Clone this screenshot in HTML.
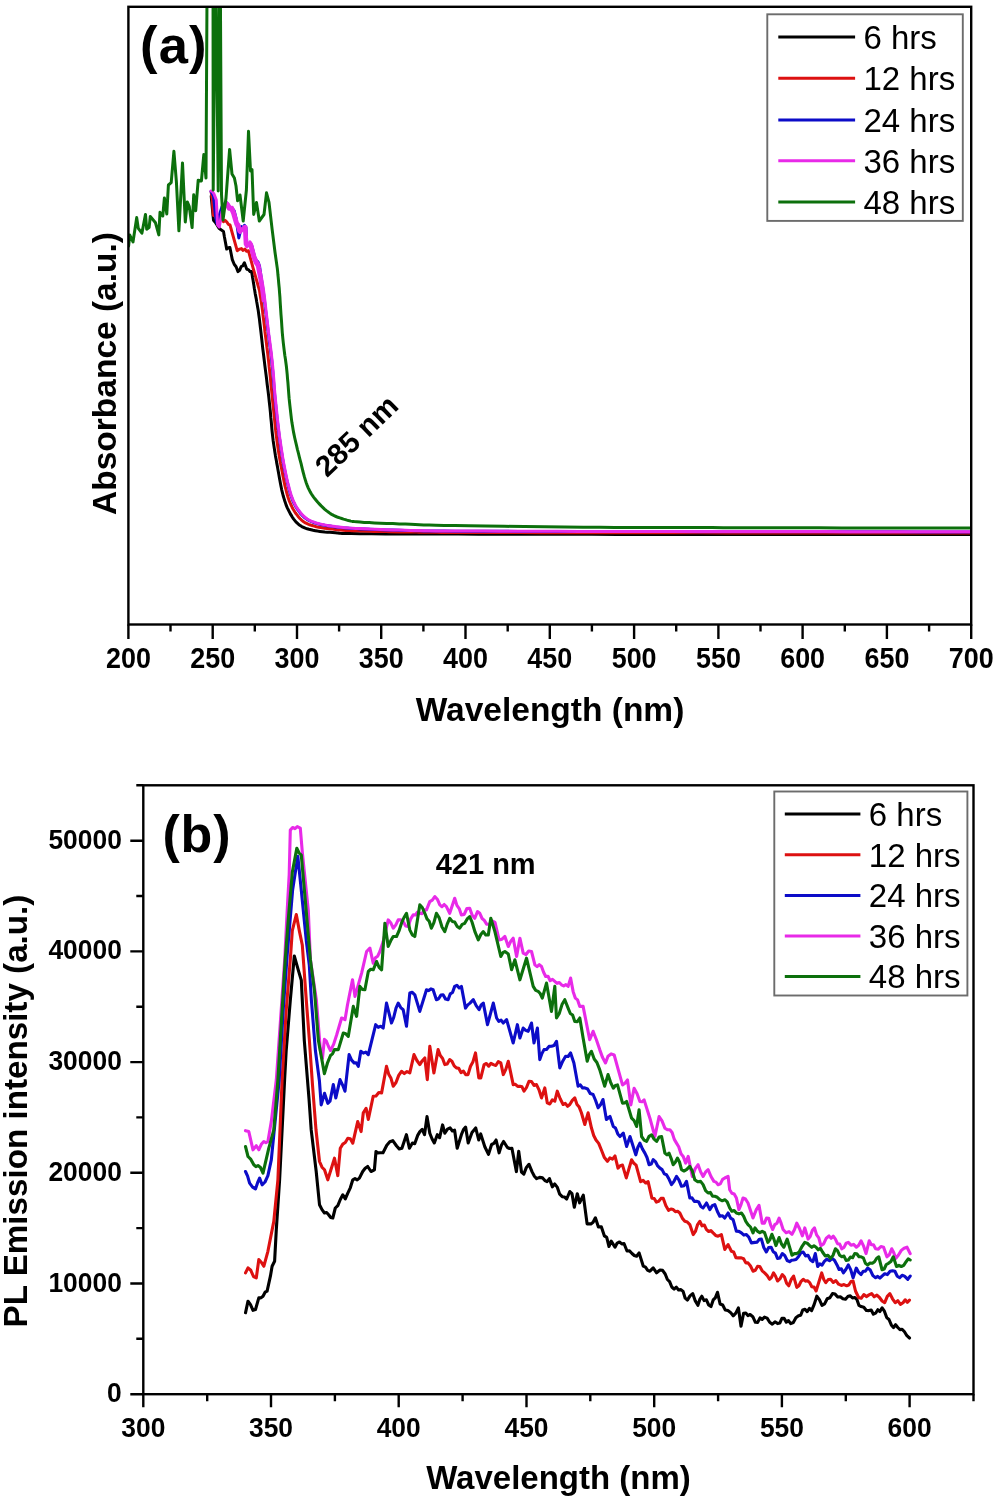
<!DOCTYPE html><html><head><meta charset="utf-8"><style>html,body{margin:0;padding:0;background:#fff;}svg{display:block;filter:blur(0.45px);}text{font-family:"Liberation Sans",sans-serif;}</style></head><body>
<svg width="995" height="1503" viewBox="0 0 995 1503">
<rect x="0" y="0" width="995" height="1503" fill="#fff"/>
<defs><clipPath id="ca"><rect x="128.4" y="6.8" width="842.8" height="617.7"/></clipPath><clipPath id="cb"><rect x="143.3" y="785.3" width="830.2" height="608.9"/></clipPath></defs>
<g clip-path="url(#ca)" fill="none" stroke-width="3.0" stroke-linejoin="round" stroke-linecap="round">
<polyline stroke="#000000" points="211.2,196.0 212.5,210.0 213.5,220.2 215.2,222.2 217.0,225.0 219.0,228.3 221.0,229.8 223.5,231.4 224.3,236.3 226.7,249.1 228.3,247.8 229.9,247.5 232.3,259.6 234.2,264.3 236.1,266.7 238.0,271.6 239.6,270.4 241.2,266.5 242.8,265.8 244.4,262.8 246.8,269.2 248.4,269.6 250.0,271.5 251.6,271.6 251.8,273.1 252.2,275.0 252.5,277.3 253.0,279.9 253.4,282.6 253.9,285.4 254.3,288.3 254.8,291.0 255.2,293.6 255.7,296.1 256.2,298.6 256.6,301.2 257.1,303.9 257.6,306.9 258.2,310.3 258.7,314.0 259.3,318.2 259.8,322.7 260.4,327.5 261.0,332.6 261.6,337.9 262.2,343.3 262.8,348.8 263.5,354.3 264.2,360.0 264.9,365.9 265.7,372.1 266.5,378.3 267.2,384.5 268.0,390.6 268.7,396.4 269.3,402.0 269.9,407.3 270.4,412.4 270.8,417.4 271.3,422.2 271.7,426.9 272.1,431.4 272.6,435.9 273.1,440.2 273.7,444.4 274.3,448.4 274.9,452.3 275.5,456.1 276.2,459.8 276.8,463.4 277.5,466.9 278.1,470.4 278.7,473.8 279.3,477.2 279.9,480.5 280.5,483.7 281.1,486.8 281.7,489.8 282.4,492.7 283.1,495.5 283.9,498.1 284.7,500.7 285.5,503.1 286.3,505.4 287.2,507.6 288.2,509.7 289.2,511.7 290.2,513.6 291.3,515.4 292.4,517.2 293.5,518.9 294.7,520.4 295.9,521.9 297.3,523.2 298.7,524.5 300.2,525.6 301.8,526.6 303.5,527.4 305.3,528.2 307.1,528.8 309.0,529.3 311.1,529.8 313.1,530.3 315.3,530.7 317.5,531.1 319.9,531.4 322.3,531.7 324.8,532.0 327.3,532.2 329.9,532.3 332.6,532.5 335.4,532.7 337.5,532.9 338.5,533.0 339.2,533.2 340.2,533.3 342.1,533.4 345.6,533.5 351.4,533.6 360.0,533.7 371.6,533.8 385.5,533.9 401.4,533.9 419.0,534.0 438.0,534.1 458.1,534.1 478.8,534.2 500.0,534.2 521.6,534.2 544.1,534.3 567.5,534.3 591.8,534.3 617.2,534.4 643.6,534.4 671.2,534.4 700.0,534.4 732.3,534.4 769.1,534.4 808.3,534.4 848.0,534.4 886.1,534.4 920.6,534.4 949.6,534.4 971.0,534.4"/>
<polyline stroke="#dd1111" points="211.2,192.0 212.4,200.0 213.3,215.4 215.2,216.0 217.0,218.0 218.7,219.2 220.3,218.8 222.0,220.0 223.6,221.7 225.1,220.4 226.7,221.8 228.3,224.3 230.0,225.0 237.2,250.7 239.6,249.1 241.4,248.6 243.1,250.4 244.9,249.1 246.6,251.2 248.4,250.7 253.2,268.4 259.5,290.5 260.2,295.2 261.0,300.1 261.8,305.5 262.4,309.9 262.9,314.5 263.8,321.3 264.4,326.3 264.9,331.2 265.2,333.6 265.8,338.2 266.4,342.8 266.9,347.4 267.2,349.5 267.8,354.2 268.3,358.9 268.9,364.0 269.1,366.4 269.7,371.6 270.3,377.0 270.8,382.4 271.0,385.0 271.6,390.4 272.1,395.7 272.6,400.9 273.2,406.0 273.7,411.1 274.2,416.2 274.7,421.1 275.2,426.1 275.7,430.9 276.3,435.6 276.9,440.2 277.5,444.7 278.4,450.9 279.1,455.1 279.8,459.2 280.5,463.3 281.3,467.2 282.3,472.6 283.0,476.2 283.7,479.7 284.4,483.1 285.1,486.4 285.9,489.5 287.0,493.8 287.8,496.5 288.7,499.2 289.6,501.7 290.6,504.0 292.1,507.2 293.2,509.3 294.4,511.2 295.5,513.0 296.8,514.7 298.6,517.0 299.9,518.5 301.9,520.4 303.3,521.5 305.5,522.9 307.1,523.6 308.7,524.3 310.5,525.0 312.3,525.5 314.3,526.1 316.4,526.7 318.7,527.2 322.2,527.8 324.7,528.2 327.2,528.5 329.9,528.8 332.6,529.1 335.4,529.4 337.8,529.7 340.5,530.0 342.8,530.2 345.9,530.4 350.1,530.6 351.9,530.7 357.8,530.8 360.0,530.9 362.5,531.1 370.6,531.2 373.5,531.4 383.0,531.5 386.2,531.6 389.5,531.8 400.1,531.9 403.3,532.0 414.4,532.1 416.8,532.1 419.1,532.2 421.6,532.2 433.2,532.3 436.8,532.3 441.3,532.4 456.4,532.4 463.5,532.5 481.2,532.5 500.0,532.6 519.7,532.6 540.5,532.7 562.2,532.7 573.5,532.7 596.2,532.7 620.1,532.8 645.3,532.8 671.8,532.8 699.1,532.8 728.2,532.9 759.2,532.9 772.8,532.9 803.8,532.9 816.8,532.9 848.4,532.9 879.4,532.9 892.5,533.0 920.7,533.0 944.9,533.0 954.1,533.0 971.0,533.0"/>
<polyline stroke="#0c0cc8" points="211.0,191.5 213.5,196.0 215.3,214.0 216.8,223.0 220.0,213.0 222.0,206.6 224.0,204.0 225.4,205.2 226.9,202.8 228.3,205.0 230.3,208.9 232.3,208.3 234.2,210.9 236.0,218.0 238.8,237.9 241.6,226.6 243.1,228.6 244.5,225.4 246.0,227.6 246.8,243.7 248.4,245.6 250.0,243.0 251.6,245.1 254.8,257.4 256.4,260.6 258.0,262.0 259.5,266.0 263.1,290.1 263.7,294.4 264.3,299.3 264.9,304.4 265.5,309.6 266.2,314.9 266.8,320.3 267.4,325.4 267.9,330.1 268.5,334.3 269.0,338.5 269.5,342.5 270.0,346.4 270.5,350.1 271.0,354.0 271.5,358.2 271.9,362.5 272.3,366.7 272.8,371.3 273.1,376.0 273.5,380.8 273.9,385.4 274.3,390.3 274.7,395.2 275.2,400.1 275.7,405.1 276.2,410.1 276.7,415.2 277.3,420.4 277.9,425.5 278.5,430.5 279.1,435.4 279.8,440.2 280.4,444.9 281.1,449.7 281.9,454.3 282.6,458.8 283.4,463.2 284.1,467.4 285.0,471.6 285.8,475.5 286.6,479.2 287.4,482.7 288.2,486.0 289.0,489.2 289.9,492.4 290.8,495.3 291.8,498.0 292.8,500.6 293.9,503.0 295.1,505.4 296.3,507.5 297.5,509.4 298.8,511.2 300.1,512.9 301.5,514.5 302.8,515.9 304.3,517.3 305.6,518.4 307.0,519.4 308.5,520.2 309.9,521.0 311.5,521.7 313.3,522.3 315.2,523.0 317.3,523.6 319.6,524.2 322.1,524.8 324.6,525.3 327.2,525.7 329.9,526.1 332.6,526.5 335.4,526.9 338.1,527.2 340.7,527.5 343.3,527.8 346.1,528.0 349.2,528.2 352.3,528.4 356.1,528.6 360.0,528.9 364.4,529.1 369.8,529.3 375.0,529.5 381.1,529.7 386.8,530.0 392.5,530.1 399.1,530.3 404.8,530.5 410.8,530.6 415.1,530.7 419.2,530.8 423.5,530.9 429.5,531.0 435.8,531.0 443.9,531.1 455.2,531.2 467.7,531.2 483.1,531.3 500.0,531.3 518.3,531.4 537.8,531.4 558.1,531.5 578.0,531.5 599.6,531.5 622.3,531.6 646.7,531.6 672.2,531.6 698.5,531.7 725.1,531.7 751.7,531.7 775.7,531.7 800.4,531.7 823.2,531.8 848.8,531.8 874.4,531.8 897.4,531.8 920.7,531.9 941.4,531.9 957.6,531.9 971.0,531.9"/>
<polyline stroke="#e82ae8" points="225.1,204.2 226.7,205.7 228.7,209.2 230.7,208.9 232.6,213.3 234.4,219.6 235.9,224.5 237.3,226.3 238.8,231.4 240.1,232.6 241.4,229.6 242.9,227.9 244.4,228.2 245.2,244.3 246.8,246.9 248.4,243.5 250.0,245.9 253.2,258.0 255.3,263.0 257.3,266.0 257.7,267.9 258.1,270.3 258.7,273.1 259.3,276.3 260.0,279.8 260.6,283.6 261.3,287.5 261.9,291.6 262.5,296.0 263.1,300.8"/>
<polyline stroke="#e82ae8" points="211.0,191.0 212.5,191.7 214.0,194.0 216.3,200.0 217.6,225.0 219.3,227.0 222.0,212.0 223.5,208.9 225.0,204.0 226.7,202.6 228.3,204.1 230.3,207.6 232.3,207.3 234.2,211.7 236.0,218.0 237.5,222.9 238.9,224.7 240.4,229.8 241.7,231.0 243.0,228.0 244.5,226.3 246.0,226.6 246.8,242.7 248.4,245.3 250.0,241.9 251.6,244.3 254.8,256.4 256.9,261.4 258.9,264.4 259.3,266.3 259.7,268.7 260.3,271.5 260.9,274.7 261.6,278.2 262.2,282.0 262.9,285.9 263.5,290.0 264.1,294.4 264.7,299.2 265.3,304.3 265.9,309.6 266.5,314.9 267.2,320.2 267.7,325.3 268.3,330.0 268.8,334.4 269.4,338.5 269.9,342.4 270.4,346.3 270.9,350.1 271.4,354.0 271.8,358.1 272.3,362.3 272.7,366.7 273.1,371.3 273.5,375.9 273.9,380.7 274.2,385.4 274.6,390.3 275.0,395.1 275.5,400.0 276.0,404.9 276.5,410.0 277.1,415.1 277.6,420.3 278.2,425.4 278.8,430.4 279.4,435.4 280.1,440.2 280.8,444.9 281.5,449.6 282.2,454.2 282.9,458.7 283.7,463.2 284.5,467.4 285.3,471.5 286.1,475.4 286.9,479.1 287.7,482.6 288.6,486.0 289.4,489.2 290.3,492.3 291.2,495.2 292.2,497.9 293.2,500.5 294.3,502.9 295.4,505.2 296.6,507.3 297.9,509.2 299.2,511.0 300.5,512.6 301.8,514.2 303.2,515.6 304.6,516.9 305.9,518.0 307.2,519.0 308.6,519.8 310.1,520.6 311.7,521.3 313.4,521.9 315.3,522.6 317.4,523.3 319.7,523.9 322.1,524.4 324.6,524.9 327.2,525.4 329.9,525.8 332.6,526.2 335.4,526.6 338.1,526.9 340.8,527.2 343.4,527.5 346.1,527.7 349.1,528.0 352.3,528.2 355.9,528.4 360.0,528.6 364.6,528.8 369.7,529.1 375.2,529.3 380.9,529.5 386.9,529.7 392.9,530.0 399.0,530.1 405.0,530.3 410.4,530.4 414.9,530.6 419.2,530.6 423.8,530.7 429.1,530.8 435.7,530.9 444.2,530.9 455.0,531.0 468.2,531.1 483.3,531.1 500.0,531.2 518.1,531.2 537.4,531.3 557.7,531.3 578.6,531.4 600.0,531.4 622.6,531.4 646.8,531.5 672.2,531.5 698.4,531.5 724.7,531.5 750.8,531.6 776.0,531.6 800.0,531.6 823.9,531.6 848.8,531.7 873.8,531.7 898.0,531.7 920.7,531.7 941.0,531.8 958.0,531.8 971.0,531.8"/>
<polyline stroke="#0c700c" points="128.6,246.0 129.8,235.0 133.0,242.0 136.7,217.6 138.3,228.4 141.9,233.2 145.5,214.4 146.7,229.2 149.1,227.6 150.3,216.4 155.5,222.8 158.8,234.9 160.0,212.3 162.8,216.0 164.4,197.9 166.8,214.0 168.4,185.0 171.2,182.6 173.9,151.3 176.4,181.8 178.9,230.8 182.5,162.9 185.3,222.0 187.3,201.9 189.3,206.7 192.1,227.6 193.7,194.7 195.7,210.7 198.2,180.2 201.4,181.0 203.8,154.6 206.0,178.0 207.2,-40.0 213.0,-40.0 213.2,190.0 215.4,-40.0 215.8,-40.0 218.2,191.0 219.8,-40.0 220.2,-40.0 221.5,194.4 223.0,220.0 226.0,198.0 229.6,149.4 232.0,174.0 234.4,178.0 236.0,186.0 237.6,200.8 240.0,195.0 243.2,221.0 246.4,190.0 248.5,131.3 250.5,171.0 252.0,169.5 253.7,214.5 256.5,202.4 259.3,221.0 264.0,214.5 266.5,192.8 269.0,202.4 272.2,229.8 275.0,252.3 277.3,268.4 277.5,270.1 277.7,272.1 277.9,274.5 278.2,277.3 278.5,280.5 278.8,284.0 279.2,287.8 279.5,292.0 279.9,296.8 280.2,302.3 280.6,308.3 281.0,314.6 281.5,320.9 281.9,327.1 282.3,332.9 282.8,338.2 283.3,342.9 283.8,347.2 284.3,351.3 284.8,355.2 285.4,359.0 285.9,362.7 286.4,366.5 286.8,370.4 287.2,374.4 287.5,378.4 287.9,382.4 288.2,386.4 288.5,390.4 288.8,394.4 289.1,398.2 289.5,402.0 289.9,405.7 290.3,409.2 290.7,412.7 291.1,416.2 291.5,419.6 292.0,423.1 292.6,426.6 293.2,430.2 293.9,433.9 294.7,437.7 295.6,441.6 296.5,445.4 297.4,449.3 298.4,453.1 299.3,456.8 300.2,460.3 301.1,463.7 301.9,467.2 302.7,470.5 303.6,473.8 304.4,476.9 305.3,479.9 306.2,482.8 307.2,485.4 308.2,487.8 309.2,489.9 310.2,491.9 311.3,493.7 312.4,495.4 313.6,497.1 314.9,498.8 316.3,500.5 317.8,502.3 319.5,504.1 321.2,505.9 323.0,507.6 324.8,509.3 326.7,510.9 328.6,512.3 330.4,513.6 332.2,514.7 334.1,515.7 336.0,516.5 337.9,517.3 339.8,517.9 341.7,518.5 343.5,519.1 345.4,519.6 347.0,520.1 348.4,520.5 349.6,520.8 350.8,521.1 352.3,521.4 354.2,521.6 356.7,521.8 360.0,522.1 364.2,522.4 369.1,522.6 374.5,522.9 380.5,523.2 386.6,523.4 392.9,523.6 399.2,523.9 405.3,524.1 410.7,524.3 415.2,524.5 419.4,524.7 423.9,524.9 429.2,525.0 435.8,525.2 444.2,525.4 455.0,525.6 468.9,525.8 485.6,526.0 504.4,526.3 524.4,526.5 544.7,526.8 564.7,527.0 583.4,527.2 600.0,527.3 614.7,527.4 628.2,527.5 640.8,527.5 652.8,527.5 664.5,527.6 676.1,527.6 687.8,527.6 700.0,527.6 712.0,527.6 723.3,527.7 734.4,527.7 745.6,527.7 757.3,527.7 770.0,527.8 784.1,527.8 800.0,527.8 819.1,527.8 841.8,527.9 866.4,527.9 891.8,527.9 916.3,527.9 938.6,528.0 957.3,528.0 971.0,528.0"/>
</g>
<rect x="128.4" y="6.8" width="842.8" height="617.7" fill="none" stroke="#000" stroke-width="2.4"/>
<path d="M128.4 624.5V638.9M170.5 624.5V631.5M212.7 624.5V638.9M254.8 624.5V631.5M297.0 624.5V638.9M339.1 624.5V631.5M381.2 624.5V638.9M423.4 624.5V631.5M465.5 624.5V638.9M507.7 624.5V631.5M549.8 624.5V638.9M591.9 624.5V631.5M634.1 624.5V638.9M676.2 624.5V631.5M718.4 624.5V638.9M760.5 624.5V631.5M802.6 624.5V638.9M844.8 624.5V631.5M886.9 624.5V638.9M929.1 624.5V631.5M971.2 624.5V638.9" stroke="#000" stroke-width="2.4" fill="none"/>
<text transform="translate(128.4,667.6) scale(1.015,1.08)" font-size="26.5" font-weight="bold" text-anchor="middle">200</text>
<text transform="translate(212.7,667.6) scale(1.015,1.08)" font-size="26.5" font-weight="bold" text-anchor="middle">250</text>
<text transform="translate(297.0,667.6) scale(1.015,1.08)" font-size="26.5" font-weight="bold" text-anchor="middle">300</text>
<text transform="translate(381.2,667.6) scale(1.015,1.08)" font-size="26.5" font-weight="bold" text-anchor="middle">350</text>
<text transform="translate(465.5,667.6) scale(1.015,1.08)" font-size="26.5" font-weight="bold" text-anchor="middle">400</text>
<text transform="translate(549.8,667.6) scale(1.015,1.08)" font-size="26.5" font-weight="bold" text-anchor="middle">450</text>
<text transform="translate(634.1,667.6) scale(1.015,1.08)" font-size="26.5" font-weight="bold" text-anchor="middle">500</text>
<text transform="translate(718.4,667.6) scale(1.015,1.08)" font-size="26.5" font-weight="bold" text-anchor="middle">550</text>
<text transform="translate(802.6,667.6) scale(1.015,1.08)" font-size="26.5" font-weight="bold" text-anchor="middle">600</text>
<text transform="translate(886.9,667.6) scale(1.015,1.08)" font-size="26.5" font-weight="bold" text-anchor="middle">650</text>
<text transform="translate(971.2,667.6) scale(1.015,1.08)" font-size="26.5" font-weight="bold" text-anchor="middle">700</text>
<text x="550" y="720.7" font-size="33.5" font-weight="bold" text-anchor="middle">Wavelength (nm)</text>
<text transform="translate(116.0,373.5) rotate(-90)" x="0" y="0" font-size="33.5" font-weight="bold" text-anchor="middle">Absorbance (a.u.)</text>
<text x="140" y="63.4" font-size="52.5" font-weight="bold" letter-spacing="1.2">(a)</text>
<text transform="translate(327.0,478.3) rotate(-44)" x="0" y="0" font-size="29.5" font-weight="bold">285 nm</text>
<rect x="767.3" y="14.3" width="195.5" height="206.6" fill="#fff" stroke="#6c6c6c" stroke-width="1.9"/>
<line x1="778.3" y1="36.9" x2="855.1" y2="36.9" stroke="#000000" stroke-width="3"/>
<text x="863.5" y="48.6" font-size="33">6 hrs</text>
<line x1="778.3" y1="78.3" x2="855.1" y2="78.3" stroke="#dd1111" stroke-width="3"/>
<text x="863.5" y="90.0" font-size="33">12 hrs</text>
<line x1="778.3" y1="119.9" x2="855.1" y2="119.9" stroke="#0c0cc8" stroke-width="3"/>
<text x="863.5" y="131.6" font-size="33">24 hrs</text>
<line x1="778.3" y1="160.8" x2="855.1" y2="160.8" stroke="#e82ae8" stroke-width="3"/>
<text x="863.5" y="172.5" font-size="33">36 hrs</text>
<line x1="778.3" y1="201.9" x2="855.1" y2="201.9" stroke="#0c700c" stroke-width="3"/>
<text x="863.5" y="213.6" font-size="33">48 hrs</text>
<g clip-path="url(#cb)" fill="none" stroke-width="3.1" stroke-linejoin="round" stroke-linecap="round">
<polyline stroke="#000000" points="245.5,1312.8 248.0,1301.2 250.5,1304.7 253.0,1310.3 255.5,1309.5 258.8,1297.9 260.9,1297.9 263.0,1296.2 265.1,1292.2 267.1,1291.2 270.4,1276.2 272.1,1266.3 274.6,1261.3 276.3,1229.7 279.6,1179.8 284.6,1080.0 286.2,1050.5 290.3,1000.3 294.3,956.0 298.3,970.1 301.3,980.2 304.3,1040.5 309.0,1098.7 311.2,1129.9 316.2,1171.5 319.5,1204.7 322.0,1209.6 324.5,1213.0 326.6,1212.5 328.6,1214.7 330.7,1217.5 332.8,1218.0 335.3,1208.0 337.8,1205.6 340.3,1199.5 342.8,1194.8 345.3,1198.9 347.8,1193.1 350.3,1187.8 352.8,1179.8 355.0,1178.6 357.2,1179.9 359.4,1178.1 362.7,1171.5 365.2,1168.3 367.7,1166.5 371.0,1171.5 374.4,1169.8 376.0,1151.5 378.0,1152.9 380.0,1152.8 383.0,1152.8 386.8,1145.2 389.8,1141.8 392.8,1140.7 396.6,1146.0 399.2,1148.9 401.9,1148.2 406.4,1134.7 409.4,1148.2 412.4,1143.0 414.7,1143.7 417.7,1135.4 419.9,1131.6 422.2,1129.4 424.5,1134.7 427.0,1116.6 429.8,1133.2 432.1,1139.0 434.3,1143.0 437.3,1134.7 439.6,1137.7 442.6,1124.9 444.8,1133.2 447.5,1129.1 450.1,1127.9 452.4,1131.0 454.6,1130.2 457.2,1148.2 461.4,1134.7 463.5,1129.5 465.6,1127.1 468.2,1143.0 472.0,1132.4 475.7,1127.9 478.7,1140.0 480.7,1133.9 484.8,1146.7 488.5,1154.3 491.6,1144.5 493.9,1143.4 496.1,1140.0 499.1,1152.8 501.4,1145.2 503.6,1141.5 507.4,1147.5 509.6,1148.5 511.9,1148.2 516.4,1171.6 518.7,1151.3 521.5,1172.0 523.8,1174.1 526.4,1167.4 529.0,1164.3 532.1,1171.9 534.4,1176.3 536.6,1178.6 539.6,1177.4 542.6,1177.9 544.9,1180.6 547.1,1181.7 549.4,1178.6 552.4,1186.9 554.7,1183.9 557.2,1187.1 559.7,1194.2 562.2,1196.7 564.5,1197.0 566.7,1199.0 569.8,1191.5 572.0,1193.7 574.3,1207.3 577.3,1193.7 579.6,1202.8 583.3,1195.2 587.1,1223.9 590.9,1223.9 593.1,1222.3 595.4,1217.8 598.4,1226.9 601.4,1226.9 604.4,1235.9 606.7,1237.4 609.0,1246.5 611.2,1241.2 615.0,1247.2 617.2,1243.1 619.5,1242.0 621.8,1243.9 624.0,1243.5 627.0,1251.0 629.5,1250.9 632.0,1253.5 634.3,1255.5 636.6,1256.2 639.1,1252.9 643.3,1266.2 645.5,1267.2 647.7,1270.4 649.9,1271.2 653.2,1267.8 656.6,1272.8 660.0,1270.0 662.6,1270.4 665.2,1274.0 667.4,1279.5 669.6,1281.6 671.8,1287.0 674.1,1289.1 676.3,1287.1 678.6,1290.0 680.9,1289.6 683.1,1291.4 685.2,1298.2 687.4,1300.1 690.0,1295.9 692.7,1293.6 695.3,1300.9 697.9,1305.3 699.8,1299.4 701.8,1296.2 704.1,1300.6 706.4,1299.8 708.7,1305.0 711.0,1306.6 713.2,1299.9 715.3,1297.8 717.5,1292.3 720.1,1304.0 722.7,1305.0 725.3,1310.1 727.9,1310.6 730.5,1312.4 733.2,1315.8 735.8,1313.1 738.4,1307.9 741.0,1326.2 743.6,1313.2 745.8,1313.0 747.9,1315.6 750.1,1314.5 752.8,1316.7 755.4,1322.3 757.7,1322.4 760.0,1317.9 762.2,1319.4 764.5,1317.1 767.1,1318.1 769.7,1322.3 772.3,1324.2 775.0,1321.8 777.6,1323.6 779.8,1323.1 781.9,1318.4 784.1,1318.4 786.3,1322.1 788.5,1320.6 790.7,1323.6 793.3,1322.5 795.9,1317.7 798.5,1315.8 800.7,1315.2 802.8,1309.9 805.0,1309.2 807.2,1311.7 809.4,1308.4 811.6,1310.6 814.2,1304.4 816.8,1296.2 819.4,1299.6 822.0,1305.3 824.6,1303.9 827.2,1298.8 829.9,1297.8 832.5,1293.6 835.1,1294.1 837.7,1297.0 840.3,1296.8 842.9,1298.8 845.5,1299.2 848.1,1296.2 850.3,1295.9 852.5,1298.0 854.7,1297.5 856.9,1299.4 859.0,1305.4 861.2,1306.6 863.8,1307.2 866.4,1310.5 869.0,1310.6 871.2,1310.1 873.4,1314.2 875.6,1313.2 877.8,1309.7 879.9,1311.5 882.1,1307.9 884.4,1311.2 886.7,1317.6 889.0,1319.5 891.3,1324.9 893.5,1327.6 895.6,1324.7 897.8,1327.5 900.0,1329.6 902.1,1329.3 904.3,1331.5 906.9,1335.7 909.5,1338.0"/>
<polyline stroke="#dd1111" points="245.5,1272.9 248.0,1267.9 250.8,1270.3 253.5,1276.5 256.3,1277.9 258.8,1259.6 261.3,1262.2 263.8,1266.3 267.9,1251.3 273.8,1221.4 277.9,1179.8 282.1,1080.0 286.2,1010.3 290.3,959.7 292.3,930.6 296.3,914.5 299.3,930.6 302.3,945.0 306.3,1000.3 309.4,1040.5 312.5,1085.0 316.0,1130.0 319.5,1161.5 322.0,1167.2 324.5,1169.8 327.8,1179.8 334.5,1158.2 337.8,1175.6 340.3,1148.2 342.8,1144.1 345.3,1142.5 347.8,1138.2 350.3,1138.7 352.8,1143.2 357.7,1121.6 361.1,1131.6 363.3,1112.8 366.1,1108.3 368.3,1119.5 373.2,1096.2 376.0,1096.0 378.8,1092.5 381.6,1092.9 386.5,1066.3 388.7,1074.2 391.0,1078.3 393.2,1086.2 396.0,1082.5 398.7,1075.4 401.5,1071.3 404.3,1073.6 407.0,1071.6 409.8,1072.9 414.0,1054.6 416.9,1060.5 419.8,1064.6 422.3,1060.7 424.8,1058.0 427.3,1079.6 429.8,1046.3 433.9,1072.9 438.1,1049.6 440.3,1055.6 442.6,1058.4 444.8,1064.6 447.2,1064.0 449.7,1059.6 451.9,1061.2 454.2,1065.9 456.4,1067.9 458.7,1068.3 461.0,1072.6 463.4,1071.2 465.7,1074.7 468.0,1074.6 470.5,1066.2 473.0,1061.7 475.5,1052.9 478.8,1077.9 480.8,1077.9 484.1,1064.6 486.4,1063.5 488.7,1066.2 491.0,1063.3 493.3,1064.6 495.8,1065.5 498.3,1061.6 500.8,1062.9 503.3,1074.6 505.8,1069.4 508.3,1061.3 513.2,1084.6 515.4,1084.3 517.7,1086.4 519.9,1086.2 522.0,1086.8 524.0,1091.2 526.5,1087.5 529.0,1081.2 531.5,1081.5 534.0,1085.4 536.5,1084.6 539.0,1089.8 541.5,1097.9 544.8,1087.9 547.3,1102.9 549.8,1104.0 552.3,1099.9 554.8,1101.2 557.3,1091.2 560.2,1098.8 563.1,1104.5 565.3,1103.4 567.6,1106.3 569.8,1104.5 572.3,1100.4 574.8,1097.9 577.0,1104.5 579.2,1107.1 581.4,1112.8 584.8,1124.5 588.1,1112.8 591.4,1127.8 593.7,1135.5 596.0,1140.0 598.7,1143.4 601.4,1150.0 604.4,1157.6 607.4,1161.3 609.9,1157.8 612.5,1159.1 615.0,1156.0 618.0,1168.1 620.2,1165.7 622.5,1165.1 626.3,1177.9 631.6,1159.8 633.9,1163.3 636.1,1165.1 640.6,1181.7 643.1,1180.4 645.6,1183.0 648.1,1181.7 651.9,1198.2 654.2,1198.5 656.4,1202.1 658.7,1201.3 661.0,1198.4 663.2,1198.2 665.9,1205.8 668.5,1210.3 670.9,1209.0 673.2,1209.6 675.4,1211.7 677.6,1211.2 679.8,1213.0 682.3,1218.2 684.8,1221.3 687.3,1222.0 689.8,1224.6 693.2,1234.6 695.4,1231.4 697.6,1224.6 699.8,1221.3 702.0,1225.8 704.3,1225.0 706.5,1229.6 708.7,1231.5 710.9,1230.6 713.1,1232.9 715.6,1235.4 718.1,1236.2 721.4,1234.6 724.8,1249.5 728.1,1244.6 731.4,1251.2 733.6,1251.9 735.9,1257.6 738.1,1257.9 741.4,1257.9 743.6,1258.7 745.8,1262.9 748.0,1262.9 750.5,1266.0 753.0,1271.2 755.3,1270.3 757.5,1266.4 759.8,1266.5 762.2,1270.8 764.6,1272.9 767.0,1275.3 769.5,1279.3 771.5,1277.3 773.5,1272.9 775.5,1276.0 777.5,1281.0 779.9,1278.9 782.3,1274.5 784.5,1277.0 786.6,1283.2 788.8,1285.8 791.2,1279.5 793.6,1276.1 796.8,1287.4 798.9,1285.7 801.1,1281.3 803.2,1279.3 805.4,1281.1 807.5,1280.8 809.7,1282.6 811.8,1286.7 814.0,1287.1 816.1,1291.0 821.7,1272.9 823.8,1279.5 825.8,1282.6 828.2,1279.6 830.6,1279.3 833.3,1282.5 835.9,1280.6 838.6,1284.2 841.3,1285.4 844.0,1284.6 846.7,1285.8 848.8,1285.0 851.0,1281.5 853.1,1281.0 855.5,1291.0 858.6,1297.5 861.2,1298.3 863.8,1294.6 866.4,1296.6 869.0,1294.9 871.6,1293.6 874.2,1296.8 876.9,1295.1 879.5,1297.5 882.1,1301.0 884.7,1302.7 887.3,1296.3 889.9,1293.6 892.5,1298.8 895.2,1302.7 897.8,1300.7 900.4,1304.4 903.0,1302.7 905.2,1299.8 907.3,1302.4 909.5,1300.1"/>
<polyline stroke="#0c0cc8" points="245.5,1171.5 247.6,1176.1 249.6,1183.1 252.6,1187.1 255.5,1188.9 257.6,1182.7 259.6,1178.1 262.1,1184.8 265.0,1182.0 267.9,1175.6 271.3,1159.8 279.2,1080.0 283.2,1010.0 287.2,955.0 292.6,890.0 297.8,856.2 301.3,890.4 306.3,940.7 309.3,965.0 311.4,1000.3 315.4,1050.5 319.4,1080.7 321.2,1104.9 324.5,1093.3 327.8,1103.3 330.0,1101.2 333.3,1084.6 335.8,1097.9 340.0,1079.6 342.5,1084.8 345.0,1091.2 349.1,1054.6 351.6,1060.1 354.1,1062.9 356.2,1062.7 358.3,1066.3 360.8,1051.3 363.3,1053.1 365.8,1052.1 368.3,1054.6 375.7,1024.7 378.2,1027.3 380.7,1026.2 383.2,1028.0 386.5,1003.1 391.5,1023.0 393.7,1017.5 396.0,1008.1 398.2,1003.1 400.7,1007.6 403.2,1009.7 406.5,1026.3 409.8,993.1 412.3,992.3 414.8,994.8 419.8,1011.4 426.5,989.8 428.7,990.6 430.9,988.9 433.1,989.8 436.4,999.7 438.6,998.8 440.9,995.1 443.1,994.8 445.6,999.1 448.1,999.7 450.3,993.8 452.5,992.5 454.7,986.4 456.9,985.3 459.2,988.0 461.4,986.4 465.5,1008.1 467.8,1004.9 470.0,1003.1 473.3,999.7 476.2,1005.7 479.1,1009.7 481.2,1004.9 483.3,1003.1 487.5,1024.7 493.3,1003.1 496.6,1018.0 498.8,1021.3 501.1,1020.1 503.3,1023.0 506.6,1019.7 513.2,1043.0 517.4,1024.7 519.9,1038.0 523.2,1028.0 525.7,1030.4 528.2,1031.3 531.5,1023.0 534.0,1043.0 537.4,1028.0 539.8,1059.6 541.9,1053.6 544.0,1049.6 546.5,1049.4 549.0,1046.4 551.5,1046.3 554.0,1045.5 556.5,1041.3 559.8,1067.9 562.7,1061.2 565.6,1056.3 568.1,1056.5 570.6,1053.0 573.9,1062.9 578.1,1086.2 580.3,1084.9 582.6,1088.0 584.8,1087.9 587.6,1089.0 590.3,1093.6 593.1,1094.5 595.6,1100.5 598.1,1107.8 600.5,1104.8 603.0,1099.5 606.4,1119.5 610.0,1116.5 613.3,1126.5 615.5,1128.0 617.8,1133.9 620.0,1136.5 623.3,1133.1 626.6,1146.4 630.0,1136.5 635.8,1154.8 637.8,1147.5 639.9,1143.1 642.4,1148.9 644.9,1153.1 647.0,1157.5 649.1,1164.7 651.2,1164.1 653.2,1159.7 655.4,1161.6 657.7,1165.9 659.9,1168.1 662.1,1169.6 664.3,1173.9 666.5,1174.7 669.0,1179.1 671.5,1184.7 674.0,1181.3 676.5,1176.4 679.0,1180.1 681.5,1186.3 684.0,1185.7 686.5,1181.4 689.8,1198.0 692.0,1197.9 694.3,1201.4 696.5,1201.3 698.7,1202.0 700.9,1206.5 703.1,1208.0 706.5,1203.0 709.8,1209.6 712.3,1205.7 714.8,1204.6 717.3,1211.3 719.8,1216.3 722.3,1215.7 724.8,1218.0 728.1,1213.0 730.6,1218.2 733.1,1219.6 736.4,1231.3 738.9,1231.4 741.4,1232.9 743.9,1235.1 746.4,1234.6 748.9,1237.3 751.4,1242.9 755.0,1242.4 757.1,1242.1 759.3,1239.2 761.4,1239.1 763.8,1247.5 766.3,1252.0 768.7,1247.6 771.1,1247.2 773.2,1251.7 775.4,1253.1 777.5,1258.4 779.9,1257.9 782.3,1253.6 784.7,1255.4 787.2,1260.5 789.6,1261.7 791.6,1260.2 793.6,1260.0 796.0,1259.5 798.4,1256.8 800.8,1252.9 803.2,1252.0 805.6,1255.9 808.0,1255.2 810.5,1260.0 812.9,1261.7 815.3,1253.6 817.7,1266.5 819.8,1263.8 822.0,1265.1 824.1,1261.7 826.8,1259.2 829.5,1260.7 832.2,1258.4 834.6,1260.5 837.0,1264.9 839.1,1269.5 841.3,1268.8 843.4,1272.9 845.8,1269.5 848.3,1264.9 850.7,1269.6 853.1,1277.7 856.3,1268.1 858.7,1272.4 861.1,1274.5 863.3,1271.2 865.4,1271.1 867.6,1268.1 870.3,1270.1 872.9,1275.6 875.6,1277.7 877.7,1276.4 879.9,1278.1 882.0,1276.1 884.7,1273.8 887.4,1274.6 890.1,1271.3 892.5,1270.7 894.9,1271.3 897.3,1276.2 899.7,1277.7 902.1,1275.2 904.5,1276.1 907.8,1279.3 910.2,1276.1"/>
<polyline stroke="#e82ae8" points="245.5,1130.7 248.8,1131.6 253.0,1149.8 256.3,1145.7 258.8,1149.8 261.3,1144.3 263.8,1141.5 265.9,1142.7 267.9,1141.5 271.3,1121.6 276.3,1080.0 280.5,1020.0 284.7,959.7 287.2,910.5 289.2,874.3 290.3,830.1 292.6,827.5 295.0,828.7 297.3,826.6 300.3,828.1 302.3,852.2 308.3,910.5 310.4,959.7 316.4,1000.3 320.4,1050.5 322.4,1058.5 324.4,1039.4 326.4,1041.2 328.5,1046.5 330.5,1050.5 333.6,1044.4 336.7,1034.7 341.6,1018.0 345.0,1019.7 347.5,1004.7 352.5,979.8 355.0,996.4 361.6,973.1 366.6,951.5 369.9,948.2 373.2,963.2 375.4,957.8 377.7,956.2 379.9,951.5 383.2,941.5 388.2,919.9 390.7,922.7 393.2,928.2 395.7,925.1 398.2,919.9 400.7,919.8 403.2,921.6 405.7,926.0 408.2,926.6 410.7,918.8 413.2,914.9 415.4,915.0 417.6,912.0 419.8,913.3 422.0,913.6 424.3,909.9 426.5,909.9 429.8,901.6 432.3,900.1 434.8,896.6 437.3,899.2 439.8,904.9 442.0,906.7 444.2,904.5 446.4,906.6 449.7,913.3 454.7,898.3 456.9,905.4 459.2,908.6 461.4,914.9 464.2,914.4 466.9,908.5 469.7,908.3 472.2,915.3 474.7,918.3 477.5,911.6 479.8,913.3 482.1,918.5 484.3,920.4 486.6,924.1 489.4,924.3 492.2,921.0 495.0,922.4 499.1,939.9 502.0,939.2 504.9,936.5 508.3,946.5 510.8,941.2 513.2,938.2 516.6,956.5 519.9,938.2 523.2,953.2 526.0,954.5 528.7,951.0 531.5,951.5 534.9,964.8 537.1,966.7 539.3,964.7 541.5,966.5 543.6,972.2 545.7,976.5 548.0,976.3 550.2,980.7 552.5,979.4 554.8,981.4 557.0,983.4 559.3,982.5 561.5,984.8 563.7,986.0 565.9,984.6 568.1,986.4 570.6,978.1 573.1,991.4 575.3,998.1 577.6,999.9 579.8,1006.4 583.1,1006.4 589.7,1039.7 593.1,1031.3 596.4,1039.7 599.7,1049.6 602.6,1057.6 605.5,1062.9 608.0,1056.3 611.1,1053.9 614.2,1055.0 618.3,1069.9 622.5,1084.9 625.0,1083.2 627.5,1079.9 630.8,1104.9 634.1,1088.2 637.0,1093.5 639.9,1101.5 642.0,1101.8 644.1,1099.9 649.9,1118.2 654.9,1136.5 659.1,1116.5 662.0,1120.9 664.9,1128.1 667.4,1129.7 669.9,1129.8 672.1,1132.5 674.3,1139.4 676.5,1143.1 678.7,1146.7 681.0,1153.7 683.2,1156.4 685.7,1163.1 688.2,1156.4 692.3,1176.4 695.2,1168.6 698.1,1164.7 700.6,1171.8 703.1,1176.4 705.6,1171.9 708.1,1169.7 711.0,1176.5 713.9,1181.4 716.0,1182.1 718.1,1184.7 720.3,1183.9 722.6,1179.4 724.8,1178.0 728.1,1176.4 729.7,1189.7 731.9,1193.2 734.2,1194.0 736.4,1198.0 738.9,1209.6 741.0,1204.6 743.0,1198.0 745.5,1199.0 748.0,1203.0 753.0,1218.0 756.3,1209.6 759.0,1205.4 762.2,1223.1 764.4,1223.2 766.5,1218.1 768.7,1218.2 770.7,1225.1 772.7,1229.5 774.8,1224.6 777.0,1223.2 779.1,1218.2 781.1,1223.2 783.1,1229.5 786.1,1232.7 789.0,1231.6 792.0,1234.3 794.4,1229.7 796.8,1223.1 799.6,1228.8 802.4,1235.9 804.8,1227.9 808.1,1239.1 810.2,1236.6 812.4,1230.2 814.5,1227.9 816.6,1234.9 818.8,1237.9 820.9,1245.6 823.6,1243.9 826.3,1238.2 829.0,1235.9 831.1,1238.3 833.3,1236.2 835.4,1239.1 837.5,1243.7 839.7,1244.1 841.8,1248.8 844.0,1247.4 846.1,1243.2 848.3,1242.4 851.0,1245.2 853.6,1244.4 856.3,1247.2 858.7,1245.2 861.1,1240.8 863.5,1245.8 866.0,1253.6 869.2,1240.8 871.3,1244.8 873.5,1244.8 875.6,1248.8 878.3,1249.1 880.9,1246.5 883.6,1247.2 886.9,1256.8 889.3,1254.8 891.7,1248.8 893.7,1252.4 895.7,1258.4 898.5,1255.0 901.3,1250.4 904.1,1248.2 907.0,1247.2 910.2,1253.6"/>
<polyline stroke="#0c700c" points="245.5,1146.5 248.0,1156.5 250.9,1159.4 253.8,1164.8 255.9,1166.6 258.0,1165.6 260.5,1167.5 263.0,1173.1 268.8,1148.2 273.8,1129.9 277.9,1080.0 281.5,1020.0 285.2,959.7 288.2,920.6 292.3,872.3 296.8,848.2 299.1,853.0 301.3,855.2 305.3,900.5 310.4,959.7 314.4,990.2 318.4,1040.5 324.4,1073.6 327.4,1063.2 330.5,1055.5 332.5,1053.9 334.5,1049.5 338.3,1049.6 343.3,1033.0 345.8,1033.8 348.3,1036.3 353.3,1006.4 356.6,1016.4 359.9,986.4 362.4,989.4 364.9,989.8 368.3,971.5 370.8,969.2 373.2,969.8 376.6,961.5 379.1,967.4 381.6,969.8 384.9,923.2 388.2,946.5 390.7,940.8 393.2,936.5 396.5,936.5 399.0,930.9 401.5,923.2 404.0,917.5 406.5,913.3 409.8,929.9 412.3,934.9 414.8,936.5 419.8,904.9 422.3,907.5 424.8,913.3 427.0,918.9 429.2,921.3 431.4,928.2 433.9,922.7 436.4,913.3 439.2,917.9 442.0,927.0 444.8,931.6 447.2,924.1 449.7,918.3 452.2,921.4 454.7,921.9 457.2,926.4 459.7,928.2 462.2,924.4 464.7,923.3 467.2,918.9 469.7,916.6 472.0,922.0 475.1,932.2 478.3,939.9 480.8,934.5 483.3,931.6 485.8,935.0 488.3,934.9 490.8,918.3 494.9,931.6 500.8,956.5 502.9,952.7 504.9,951.5 508.3,954.0 511.6,969.8 514.9,959.8 519.9,979.8 526.5,958.2 533.2,986.4 535.7,990.4 538.2,991.4 540.2,993.5 542.3,998.1 546.5,983.1 551.5,1011.4 554.8,986.4 556.5,1018.0 559.3,1013.4 562.0,1004.6 564.8,999.7 568.1,1008.1 570.3,1013.5 572.6,1015.0 574.8,1021.4 577.3,1021.7 579.8,1018.0 583.1,1038.0 587.2,1061.3 589.3,1054.5 591.4,1051.3 594.2,1059.0 596.9,1062.5 599.7,1069.6 604.7,1086.2 608.0,1074.6 610.6,1082.3 613.3,1088.2 615.4,1085.5 617.5,1084.9 622.5,1103.2 624.5,1103.0 626.6,1101.5 631.6,1118.2 634.1,1120.7 636.6,1126.5 639.1,1109.8 641.6,1136.5 644.1,1140.1 646.6,1141.4 649.1,1136.3 651.6,1134.8 654.1,1139.2 656.6,1141.4 659.1,1137.0 661.6,1136.5 664.9,1153.1 667.0,1154.9 669.0,1153.1 671.1,1158.3 673.2,1164.7 675.3,1162.3 677.4,1158.1 679.5,1162.0 681.5,1169.7 684.0,1171.0 686.5,1169.7 689.8,1166.4 692.3,1171.1 694.8,1179.7 697.7,1181.7 700.6,1181.4 703.1,1184.6 705.6,1190.6 708.1,1193.0 710.3,1192.4 712.6,1196.2 714.8,1196.3 717.3,1197.3 719.8,1199.7 722.3,1200.8 724.8,1199.7 727.2,1201.9 729.7,1208.0 731.9,1211.3 734.2,1210.6 736.4,1213.0 738.9,1213.9 741.4,1213.0 743.6,1216.1 745.8,1221.4 748.0,1224.6 750.5,1227.0 753.0,1232.9 755.0,1227.9 757.4,1231.1 759.8,1232.7 762.2,1231.3 764.6,1232.7 767.9,1242.4 769.9,1239.6 771.9,1234.3 773.9,1239.1 775.9,1245.6 779.1,1237.5 781.5,1244.0 783.9,1247.2 787.2,1239.1 792.0,1255.2 794.4,1253.6 796.8,1253.6 799.2,1251.9 801.6,1247.2 804.8,1242.4 807.2,1243.2 809.7,1245.6 811.8,1247.3 814.0,1245.8 816.1,1247.2 818.2,1249.8 820.4,1248.4 822.5,1252.0 825.2,1255.9 827.9,1255.2 830.6,1258.4 833.0,1255.4 835.4,1248.8 837.5,1250.6 839.7,1255.3 841.8,1256.8 844.0,1256.1 846.1,1260.4 848.3,1260.0 850.4,1257.1 852.6,1257.7 854.7,1253.6 856.8,1253.8 859.0,1256.7 861.1,1256.8 863.3,1257.8 865.4,1263.3 867.6,1264.9 870.0,1263.1 872.4,1263.3 874.5,1261.8 876.7,1258.2 878.8,1256.8 882.0,1269.7 884.2,1269.0 886.3,1264.5 888.5,1263.3 890.9,1261.5 893.3,1256.8 896.5,1266.5 898.9,1265.4 901.3,1266.5 903.7,1265.3 906.1,1261.7 908.2,1258.9 910.2,1260.0"/>
</g>
<rect x="143.3" y="785.3" width="830.2" height="608.9" fill="none" stroke="#000" stroke-width="2.4"/>
<path d="M143.3 1394.2V1407.2M207.2 1394.2V1401.2M271.0 1394.2V1407.2M334.9 1394.2V1401.2M398.7 1394.2V1407.2M462.6 1394.2V1401.2M526.5 1394.2V1407.2M590.3 1394.2V1401.2M654.2 1394.2V1407.2M718.1 1394.2V1401.2M781.9 1394.2V1407.2M845.8 1394.2V1401.2M909.6 1394.2V1407.2M973.5 1394.2V1401.2M143.3 1394.2H130.3M143.3 1338.8H136.3M143.3 1283.5H130.3M143.3 1228.1H136.3M143.3 1172.8H130.3M143.3 1117.4H136.3M143.3 1062.1H130.3M143.3 1006.7H136.3M143.3 951.4H130.3M143.3 896.0H136.3M143.3 840.7H130.3M143.3 785.3H136.3" stroke="#000" stroke-width="2.4" fill="none"/>
<text transform="translate(143.3,1437.0) scale(1.015,1.08)" font-size="26" font-weight="bold" text-anchor="middle">300</text>
<text transform="translate(271.0,1437.0) scale(1.015,1.08)" font-size="26" font-weight="bold" text-anchor="middle">350</text>
<text transform="translate(398.7,1437.0) scale(1.015,1.08)" font-size="26" font-weight="bold" text-anchor="middle">400</text>
<text transform="translate(526.5,1437.0) scale(1.015,1.08)" font-size="26" font-weight="bold" text-anchor="middle">450</text>
<text transform="translate(654.2,1437.0) scale(1.015,1.08)" font-size="26" font-weight="bold" text-anchor="middle">500</text>
<text transform="translate(781.9,1437.0) scale(1.015,1.08)" font-size="26" font-weight="bold" text-anchor="middle">550</text>
<text transform="translate(909.6,1437.0) scale(1.015,1.08)" font-size="26" font-weight="bold" text-anchor="middle">600</text>
<text transform="translate(121.8,1402.2) scale(1.015,1.08)" font-size="26" font-weight="bold" text-anchor="end">0</text>
<text transform="translate(121.8,1291.5) scale(1.015,1.08)" font-size="26" font-weight="bold" text-anchor="end">10000</text>
<text transform="translate(121.8,1180.8) scale(1.015,1.08)" font-size="26" font-weight="bold" text-anchor="end">20000</text>
<text transform="translate(121.8,1070.1) scale(1.015,1.08)" font-size="26" font-weight="bold" text-anchor="end">30000</text>
<text transform="translate(121.8,959.4) scale(1.015,1.08)" font-size="26" font-weight="bold" text-anchor="end">40000</text>
<text transform="translate(121.8,848.7) scale(1.015,1.08)" font-size="26" font-weight="bold" text-anchor="end">50000</text>
<text x="558.5" y="1488.8" font-size="33" font-weight="bold" text-anchor="middle">Wavelength (nm)</text>
<text transform="translate(26.6,1111) rotate(-90)" x="0" y="0" font-size="33.2" font-weight="bold" text-anchor="middle">PL Emission intensity (a.u.)</text>
<text x="162.5" y="851.5" font-size="52" font-weight="bold" letter-spacing="0.8">(b)</text>
<text x="435.7" y="874.1" font-size="29" font-weight="bold">421 nm</text>
<rect x="774.3" y="791.5" width="193.1" height="204.0" fill="#fff" stroke="#6c6c6c" stroke-width="1.9"/>
<line x1="784.8" y1="814.0" x2="860.4" y2="814.0" stroke="#000000" stroke-width="3"/>
<text x="868.8" y="825.7" font-size="33">6 hrs</text>
<line x1="784.8" y1="854.8" x2="860.4" y2="854.8" stroke="#dd1111" stroke-width="3"/>
<text x="868.8" y="866.5" font-size="33">12 hrs</text>
<line x1="784.8" y1="895.5" x2="860.4" y2="895.5" stroke="#0c0cc8" stroke-width="3"/>
<text x="868.8" y="907.2" font-size="33">24 hrs</text>
<line x1="784.8" y1="936.1" x2="860.4" y2="936.1" stroke="#e82ae8" stroke-width="3"/>
<text x="868.8" y="947.8" font-size="33">36 hrs</text>
<line x1="784.8" y1="976.5" x2="860.4" y2="976.5" stroke="#0c700c" stroke-width="3"/>
<text x="868.8" y="988.2" font-size="33">48 hrs</text>
</svg></body></html>
